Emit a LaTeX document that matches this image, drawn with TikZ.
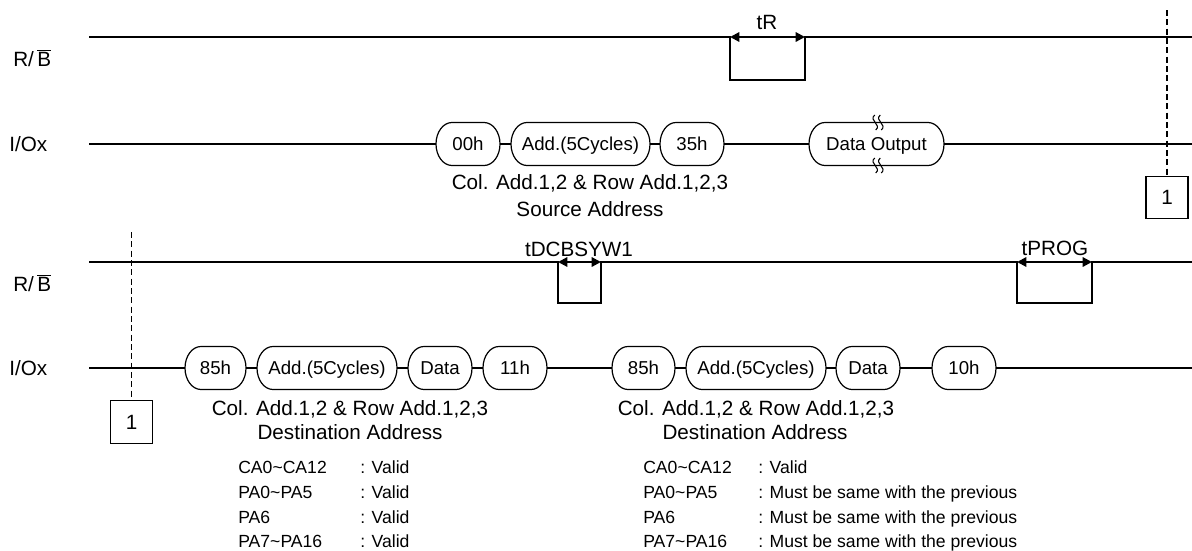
\documentclass[tikz,border=0pt]{standalone}
\usepackage{fontspec}
\setmainfont{Liberation Sans}
\usetikzlibrary{arrows.meta}
\tikzset{
  wave/.style={line width=0.9pt, black},
  bubtxt/.style={inner sep=0pt, anchor=base, font=\fontsize{14}{16}\selectfont},
  lbl/.style={inner sep=0pt, font=\fontsize{15.5}{18}\selectfont},
  note/.style={inner sep=0pt, font=\fontsize{13.2}{15}\selectfont, anchor=base west},
  tim/.style={line width=1.6pt, {Triangle[length=7pt,width=7pt]}-{Triangle[length=7pt,width=7pt]}},
  vdash/.style={line width=0.9pt, dash pattern=on 4.5pt off 2.5pt},
  numbox/.style={draw, line width=0.9pt, minimum width=31.5pt, minimum height=32pt, inner sep=0pt, font=\fontsize{15.5}{18}\selectfont},
  squig/.style={line width=0.8pt}
}
\newcommand\bub[5]{%
  \node[bubtxt] (#1) at ({(#2+#3)/2},{#4-6.7}) {#5};
  \draw[wave] ({#2+16},{#4+21.5}) -- ({#3-16},{#4+21.5})
    arc[start angle=90,end angle=-90,x radius=16,y radius=21.5]
    -- ({#2+16},{#4-21.5})
    arc[start angle=270,end angle=90,x radius=16,y radius=21.5] -- cycle;
  \coordinate (#1-w) at (#2,#4);
  \coordinate (#1-e) at (#3,#4);
}
\newcommand\squigmark[2]{%
  \foreach \d in {-2.8,2.8} {
    \draw[squig] ({#1+\d-0.5},{#2+7.5}) .. controls ({#1+\d-7},{#2+2}) and ({#1+\d+7},{#2-2}) .. ({#1+\d+0.5},{#2-7.5});
  }
}
\begin{document}
\begin{tikzpicture}[x=0.75pt,y=0.75pt]
\useasboundingbox (0,0) rectangle (1192,-550);

% ---------------- Row 1 ----------------
\node[lbl,anchor=west] (rb1lbl) at (13,-58) {R/\,$\overline{\mbox{B}}$};
\node[lbl,anchor=west] (io1lbl) at (9,-144) {I/Ox};

\coordinate (rb1s) at (89,-37);
\coordinate (rb1a) at (730,-37);
\coordinate (rb1b) at (805,-37);
\coordinate (rb1e) at (1192,-37);
\draw[wave] (rb1s) -- (rb1a) -- (730,-80) -- (805,-80) -- (rb1b) -- (rb1e);
\draw[tim] (rb1a) -- (rb1b);
\node[lbl] (tR) at (767,-22) {tR};

\coordinate (io1s) at (89,-144);
\coordinate (io1e) at (1192,-144);
\bub{a00}{436}{500}{-144}{00h}
\bub{a01}{511}{650}{-144}{Add.(5Cycles)}
\bub{a02}{660}{724}{-144}{35h}
\bub{a03}{809}{944}{-144}{Data Output}
\draw[wave] (io1s) -- (a00-w);
\draw[wave] (a00-e) -- (a01-w);
\draw[wave] (a01-e) -- (a02-w);
\draw[wave] (a02-e) -- (a03-w);
\draw[wave] (a03-e) -- (io1e);
\squigmark{878}{-122.5}
\squigmark{878}{-165.5}

\node[lbl] (src1) at (590,-183) {Col. Add.1,2 \& Row Add.1,2,3};
\node[lbl] (src2) at (590,-209) {Source Address};

\node[numbox] (box1) at (1167,-197.5) {1};
\coordinate (d1top) at (1167,-10);
\draw[vdash] (d1top) -- (box1.north);

% ---------------- Row 2 ----------------
\node[lbl,anchor=west] (rb2lbl) at (13,-283) {R/\,$\overline{\mbox{B}}$};
\node[lbl,anchor=west] (io2lbl) at (9,-368) {I/Ox};

\coordinate (rb2s) at (89,-262);
\coordinate (rb2a) at (558,-262);
\coordinate (rb2b) at (601,-262);
\coordinate (rb2c) at (1017,-262);
\coordinate (rb2d) at (1092,-262);
\coordinate (rb2e) at (1192,-262);
\draw[wave] (rb2s) -- (rb2a) -- (558,-303) -- (601,-303) -- (rb2b) -- (rb2c)
  -- (1017,-303) -- (1092,-303) -- (rb2d) -- (rb2e);
\draw[tim] (rb2a) -- (rb2b);
\draw[tim] (rb2c) -- (rb2d);
\node[lbl] (tDC) at (579,-249) {tDCBSYW1};
\node[lbl] (tPROG) at (1055,-248) {tPROG};

\coordinate (io2s) at (89,-368);
\coordinate (io2e) at (1192,-368);
\bub{b00}{185}{246}{-368}{85h}
\bub{b01}{257}{397}{-368}{Add.(5Cycles)}
\bub{b02}{408}{472}{-368}{Data}
\bub{b03}{483}{547}{-368}{11h}
\bub{b04}{612}{675}{-368}{85h}
\bub{b05}{686}{826}{-368}{Add.(5Cycles)}
\bub{b06}{836}{900}{-368}{Data}
\bub{b07}{932}{996}{-368}{10h}
\draw[wave] (io2s) -- (b00-w);
\draw[wave] (b00-e) -- (b01-w);
\draw[wave] (b01-e) -- (b02-w);
\draw[wave] (b02-e) -- (b03-w);
\draw[wave] (b03-e) -- (b04-w);
\draw[wave] (b04-e) -- (b05-w);
\draw[wave] (b05-e) -- (b06-w);
\draw[wave] (b06-e) -- (b07-w);
\draw[wave] (b07-e) -- (io2e);

\node[numbox] (box2) at (131.5,-422) {1};
\coordinate (d2top) at (131.5,-232);
\draw[vdash] (d2top) -- (box2.north);

\node[lbl] (dst1a) at (350,-409) {Col. Add.1,2 \& Row Add.1,2,3};
\node[lbl] (dst1b) at (350,-432) {Destination Address};
\node[lbl] (dst2a) at (756,-409) {Col. Add.1,2 \& Row Add.1,2,3};
\node[lbl] (dst2b) at (755,-432) {Destination Address};

% ---------------- Notes ----------------
\node[note] (n1) at (238,-473.3) {CA0\textasciitilde CA12};
\node[note] (n2) at (238,-498.3) {PA0\textasciitilde PA5};
\node[note] (n3) at (238,-523.3) {PA6};
\node[note] (n4) at (238,-547.3) {PA7\textasciitilde PA16};
\node[note] (v1) at (360,-473.3) {: Valid};
\node[note] (v2) at (360,-498.3) {: Valid};
\node[note] (v3) at (360,-523.3) {: Valid};
\node[note] (v4) at (360,-547.3) {: Valid};

\node[note] (m1) at (643,-473.3) {CA0\textasciitilde CA12};
\node[note] (m2) at (643,-498.3) {PA0\textasciitilde PA5};
\node[note] (m3) at (643,-523.3) {PA6};
\node[note] (m4) at (643,-547.3) {PA7\textasciitilde PA16};
\node[note] (w1) at (758,-473.3) {: Valid};
\node[note] (w2) at (758,-498.3) {: Must be same with the previous};
\node[note] (w3) at (758,-523.3) {: Must be same with the previous};
\node[note] (w4) at (758,-547.3) {: Must be same with the previous};
\end{tikzpicture}
\end{document}
